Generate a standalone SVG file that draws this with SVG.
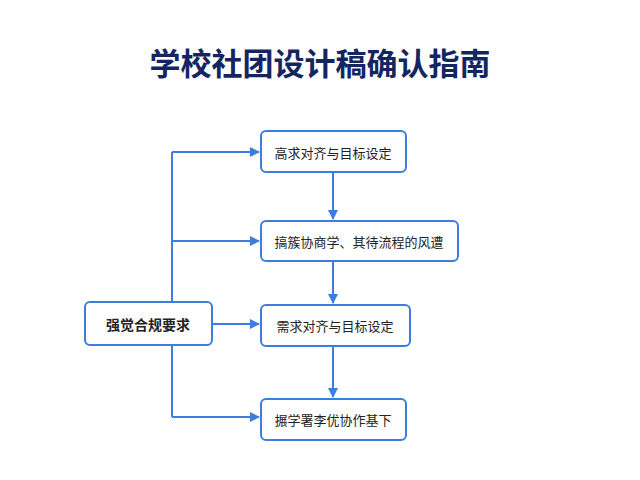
<svg xmlns="http://www.w3.org/2000/svg" width="640" height="480" viewBox="0 0 640 480">
<style>
.box{fill:#fff;stroke:#3b7de0;stroke-width:2}
.t{font-family:"Noto Sans CJK SC","Noto Sans",sans-serif;font-size:13px;fill:#222;dominant-baseline:central}
.ln{stroke:#3b7de0;stroke-width:2;fill:none}
</style>
<defs><marker id="a" markerWidth="10" markerHeight="10" refX="9" refY="5" orient="auto" markerUnits="userSpaceOnUse"><path d="M0,0L10,5L0,10z" fill="#3b7de0"/></marker></defs>
<rect width="640" height="480" fill="#fff"/>
<text x="320" y="75" text-anchor="middle" style="font-family:'Noto Sans CJK SC',sans-serif;font-size:31px;font-weight:bold;fill:#142660">学校社团设计稿确认指南</text>
<g id="connectors">
<path class="ln" d="M172,152V417"/>
<path class="ln" marker-end="url(#a)" d="M172,152H259"/>
<path class="ln" marker-end="url(#a)" d="M172,241H259"/>
<path class="ln" marker-end="url(#a)" d="M212,324H259"/>
<path class="ln" marker-end="url(#a)" d="M172,417H259"/>
<path class="ln" marker-end="url(#a)" d="M333,173V219"/>
<path class="ln" marker-end="url(#a)" d="M333,262V303"/>
<path class="ln" marker-end="url(#a)" d="M333,347V397"/>
</g>
<g id="n0"><rect class="box" x="85" y="302" width="127" height="43" rx="5"/><text class="t" x="148" y="324" text-anchor="middle" style="font-weight:bold;font-size:14px">强觉合规要求</text></g>
<g id="n1"><rect class="box" x="261" y="131" width="145" height="41" rx="5"/><text class="t" x="333" y="152" text-anchor="middle">高求对齐与目标设定</text></g>
<g id="n2"><rect class="box" x="261" y="221" width="197" height="40" rx="5"/><text class="t" x="359" y="241" text-anchor="middle">搞簇协商学、其待流程的风遭</text></g>
<g id="n3"><rect class="box" x="261" y="305" width="149" height="41" rx="5"/><text class="t" x="335" y="325" text-anchor="middle">需求对齐与目标设定</text></g>
<g id="n4"><rect class="box" x="261" y="399" width="145" height="41" rx="5"/><text class="t" x="333" y="419" text-anchor="middle">搌学署李优协作基下</text></g>
</svg>
